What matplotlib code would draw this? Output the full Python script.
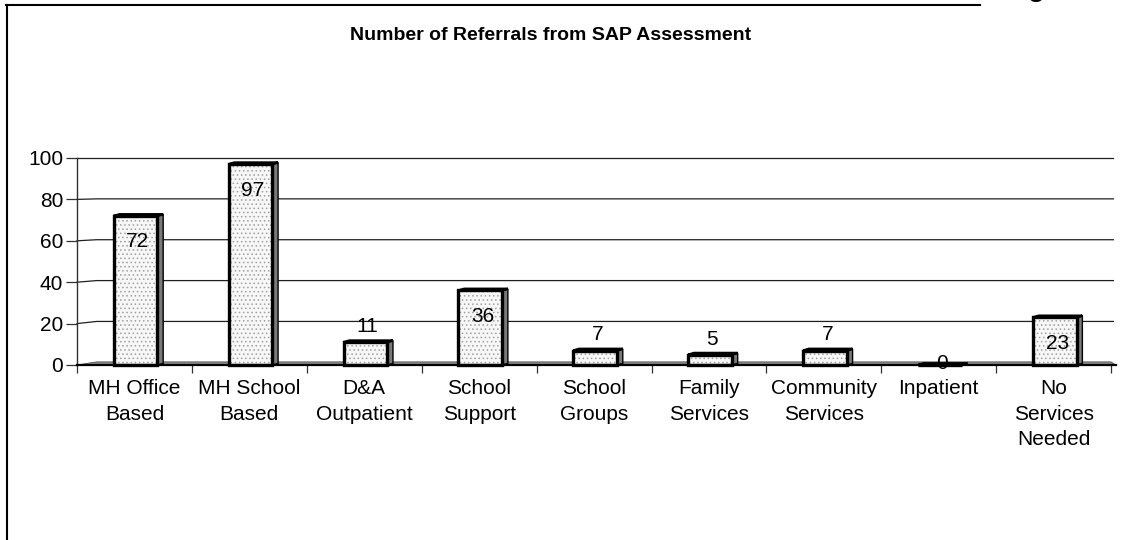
import numpy as np
import matplotlib
matplotlib.use("Agg")
from matplotlib import pyplot as plt
from matplotlib.patches import Polygon, Rectangle
from matplotlib.lines import Line2D

plt.rcParams['font.family'] = ['Liberation Sans', 'DejaVu Sans']
plt.rcParams['hatch.color'] = '#a0a0a0'
plt.rcParams['hatch.linewidth'] = 0.6

categories = ['MH Office\nBased', 'MH School\nBased', 'D&A\nOutpatient', 'School\nSupport',
              'School\nGroups', 'Family\nServices', 'Community\nServices', 'Inpatient',
              'No\nServices\nNeeded']
referrals = [72, 97, 11, 36, 7, 5, 7, 0, 23]
yticks = [0, 20, 40, 60, 80, 100]
title = 'Number of Referrals from SAP Assessment'

fig = plt.figure(figsize=(11.3, 5.4), dpi=100)
ax = fig.add_axes([77 / 1130, 175 / 540, 9.04 * 114.9 / 1130, 207 / 540])
ax.set_xlim(0, 9.04)
ax.set_ylim(0, 100)

# back wall gridlines with a little perspective kink at the left
for v in yticks[1:]:
    dv = 1.3 * (1 - v / 100) if v < 100 else 0
    ax.plot([0, 0.17, 9.02], [v, v + dv, v + dv], color='#202020', lw=0.9,
            zorder=1, clip_on=False)

# floor
floor = Polygon([(0, 0), (0.17, 1.5), (9.0, 1.5), (9.04, 0)], closed=True,
                facecolor='#8c8c8c', edgecolor='#505050', lw=0.6, zorder=2, clip_on=False)
ax.add_patch(floor)

front_w = 0.38
side_w = 0.05
dy = 0.8
for i, v in enumerate(referrals):
    x0 = i + 0.5 - 0.18
    x1 = x0 + front_w
    # side face
    side = Polygon([(x1, 0), (x1 + side_w, dy), (x1 + side_w, v + dy), (x1, v)],
                   closed=True, facecolor='#7a7a7a', edgecolor='black', lw=1.0,
                   zorder=3, clip_on=False)
    ax.add_patch(side)
    top = Polygon([(x0, v), (x0 + side_w, v + dy), (x1 + side_w, v + dy), (x1, v)],
                  closed=True, facecolor='#d8d8d8', edgecolor='black', lw=1.8,
                  zorder=3, clip_on=False)
    ax.add_patch(top)
    # front face: dotted fill then thick outline
    ax.add_patch(Rectangle((x0, 0), front_w, v, facecolor='#f7f7f7', edgecolor='#a0a0a0',
                           lw=0, hatch='....', zorder=4, clip_on=False))
    ax.add_patch(Rectangle((x0, 0), front_w, v, facecolor='none', edgecolor='black',
                           lw=2.4, zorder=5, clip_on=False))
    if v >= 20:
        ly = v - 12.5
    elif v > 0:
        ly = v + 7.5
    else:
        ly = 0.8
    ax.text(i + 0.53, ly, str(v), ha='center', va='center', fontsize=15, zorder=6)

for s in ['top', 'right']:
    ax.spines[s].set_visible(False)
ax.spines['left'].set_color('#303030')
ax.spines['left'].set_linewidth(1.0)
ax.spines['bottom'].set_color('black')
ax.spines['bottom'].set_linewidth(1.6)
ax.spines['bottom'].set_zorder(6)

ax.set_yticks(yticks)
ax.set_yticklabels([str(t) for t in yticks], fontsize=15)
ax.tick_params(axis='y', length=8, width=0.9, color='#303030', pad=2)

ax.set_xticks(np.arange(0, 10))
ax.set_xticklabels([])
ax.tick_params(axis='x', which='major', length=6, width=0.9, color='#303030')
ax.set_xticks(np.arange(len(categories)) + 0.5, minor=True)
ax.set_xticklabels(categories, minor=True, fontsize=15, linespacing=1.45)
ax.tick_params(axis='x', which='minor', length=0, pad=10)

fig.text(551 / 1130, 1 - 35 / 540, title, ha='center', va='center',
         fontsize=14, fontweight='bold')

# outer frame pieces and clipped heading letter
fig.add_artist(Line2D([6 / 1130, 980 / 1130], [1 - 5 / 540, 1 - 5 / 540],
                      transform=fig.transFigure, color='black', lw=1.5))
fig.add_artist(Line2D([6.5 / 1130, 6.5 / 1130], [0, 1 - 5 / 540],
                      transform=fig.transFigure, color='black', lw=1.5))
fig.text(1028 / 1130, 1 + 4 / 540, 'g', ha='left', va='baseline',
         fontsize=20, fontweight='bold')

fig.savefig('out.png', dpi=100)
